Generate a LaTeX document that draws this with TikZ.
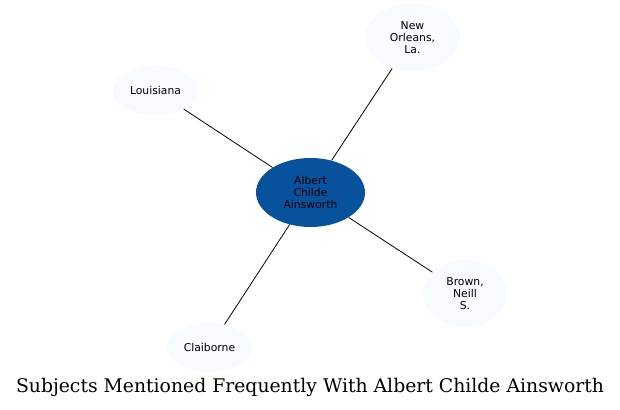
\documentclass[tikz,border=0pt]{standalone}
\usepackage{fontspec}
\setmainfont{DejaVu Sans}
\newfontfamily\titlefont{DejaVu Serif}
\usetikzlibrary{shapes.geometric}
\definecolor{hub}{HTML}{08519C}
\definecolor{leaf}{HTML}{F7FBFF}
\tikzset{
  bubble/.style={ellipse, inner sep=0pt, align=center, font=\fontsize{10.8}{12}\selectfont, text=black},
  leafnode/.style={bubble, fill=leaf},
  hubnode/.style={bubble, fill=hub},
  link/.style={draw=black, line width=0.8pt}
}
\begin{document}
\begin{tikzpicture}[x=1pt,y=-1pt]
\useasboundingbox (0,0) rectangle (620,409);
\node[hubnode, minimum width=109pt, minimum height=69pt] (hub) at (310.5,192.5) {Albert\\Childe\\Ainsworth};
\node[leafnode, minimum width=95pt, minimum height=68pt] (no) at (412.5,37.5) {New\\Orleans,\\La.};
\node[leafnode, minimum width=85pt, minimum height=49pt] (la) at (155.5,90.5) {Louisiana};
\node[leafnode, minimum width=84pt, minimum height=67pt] (br) at (465,293.5) {Brown,\\Neill\\S.};
\node[leafnode, minimum width=85pt, minimum height=49pt] (cl) at (209.5,347.5) {Claiborne};
\draw[link] (hub) -- (no);
\draw[link] (hub) -- (la);
\draw[link] (hub) -- (br);
\draw[link] (hub) -- (cl);
\node[font=\titlefont\fontsize{18.8}{20}\selectfont, inner sep=0pt] (title) at (310,387) {Subjects Mentioned Frequently With Albert Childe Ainsworth};
\end{tikzpicture}
\end{document}
